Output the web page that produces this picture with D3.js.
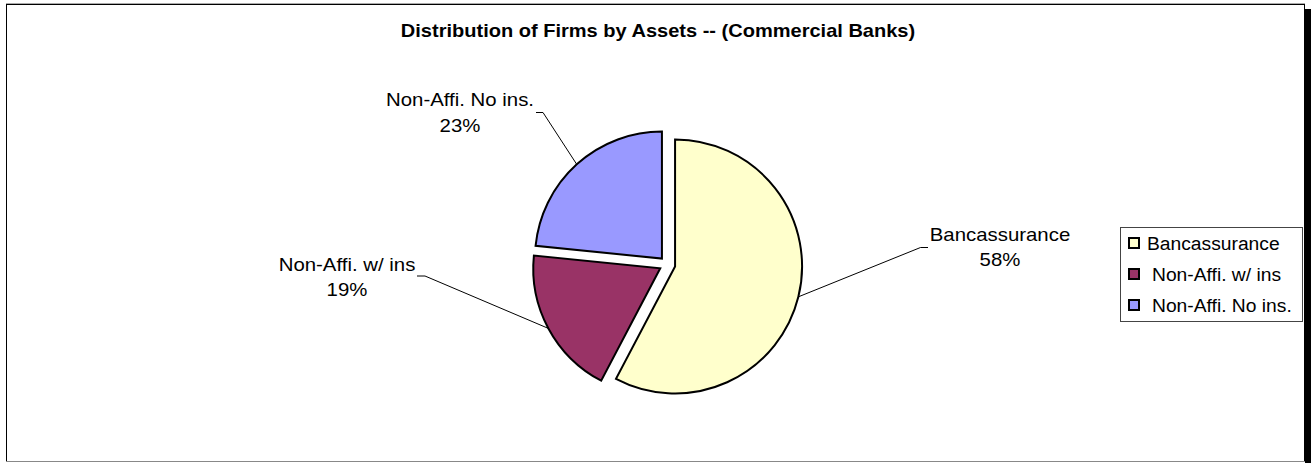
<!DOCTYPE html>
<html>
<head>
<meta charset="utf-8">
<script src="https://cdn.jsdelivr.net/npm/d3@7"></script>
<style>
  html, body { margin: 0; padding: 0; background: #fff; }
  svg { display: block; }
  text { font-family: "Liberation Sans", Arial, Helvetica, sans-serif; fill: #000; }
</style>
</head>
<body>
<svg id="chart" width="1314" height="463"></svg>
<script>
// ---- data ----
const categories = ["Bancassurance", "Non-Affi. w/ ins", "Non-Affi. No ins."];
const shares = [57.7, 18.9, 23.4];
const colors = ["#FFFFCC", "#993366", "#9999FF"];
const title = "Distribution of Firms by Assets -- (Commercial Banks)";

// ---- layout ----
const W = 1314, H = 463;
const cx = 667.3, cy = 264.5, R = 127, explode = 8;
const sx = 1.1; // horizontal stretch of text as in the reference
const labelAnchors = [
  { x: 1000, y: 240.5, elbow: [928, 247.5], end: [920.5, 247.5] },
  { x: 347,  y: 270.5, elbow: [417, 276],   end: [425, 276] },
  { x: 460,  y: 106,   elbow: [536, 112.5], end: [543, 112.5] }
];

const svg = d3.select("#chart");

// frame with shadow
svg.append("rect").attr("x", 1305).attr("y", 9).attr("width", 6).attr("height", H - 9).attr("fill", "#000");
svg.append("rect").attr("x", 6.5).attr("y", 4.5).attr("width", 1298).attr("height", 457)
  .attr("fill", "#fff").attr("stroke", "#000").attr("stroke-width", 1);
svg.append("line").attr("x1", 6).attr("x2", 1305).attr("y1", 3.5).attr("y2", 3.5).attr("stroke", "#aaa");
svg.append("line").attr("x1", 6).attr("x2", 1305).attr("y1", 461.5).attr("y2", 461.5).attr("stroke", "#888");

function stretchedText(g, x, y, str, opts) {
  const t = g.append("text")
    .attr("transform", `translate(${x},${y}) scale(${opts.sx || sx},1)`)
    .attr("text-anchor", opts.anchor || "middle")
    .style("font-size", opts.size + "px")
    .text(str);
  if (opts.bold) t.style("font-weight", "bold");
  return t;
}

// title
stretchedText(svg, 658, 36.5, title, { size: 18.3, bold: true, sx: 1.095 });

// pie
const total = d3.sum(shares);
const pie = d3.pie().sort(null).value(d => d)(shares);
const arc = d3.arc().innerRadius(0).outerRadius(R);

const g = svg.append("g").attr("transform", `translate(${cx},${cy})`);
pie.forEach((p, i) => {
  const mid = (p.startAngle + p.endAngle) / 2;
  const dx = explode * Math.sin(mid), dy = -explode * Math.cos(mid);
  g.append("path")
    .attr("d", arc(p))
    .attr("transform", `translate(${dx},${dy})`)
    .attr("fill", colors[i])
    .attr("stroke", "#000")
    .attr("stroke-width", 2)
    .attr("stroke-linejoin", "miter");

  // leader line from arc midpoint
  const px = cx + dx + R * Math.sin(mid), py = cy + dy - R * Math.cos(mid);
  const la = labelAnchors[i];
  svg.append("polyline")
    .attr("points", `${px},${py} ${la.end[0]},${la.end[1]} ${la.elbow[0]},${la.elbow[1]}`)
    .attr("fill", "none").attr("stroke", "#000").attr("stroke-width", 1);

  const pct = d3.format(".0%")(p.value / total);
  stretchedText(svg, la.x, la.y, categories[i], { size: 18.2, sx: 1.12 });
  stretchedText(svg, la.x, la.y + 25.5, pct, { size: 18.2, sx: 1.12 });
});

// legend
const lg = svg.append("g");
lg.append("rect").attr("x", 1120.5).attr("y", 227.5).attr("width", 182).attr("height", 94)
  .attr("fill", "#fff").attr("stroke", "#444").attr("stroke-width", 1);
categories.forEach((c, i) => {
  const y = 238 + i * 31;
  lg.append("rect").attr("x", 1129).attr("y", y).attr("width", 10).attr("height", 10)
    .attr("fill", colors[i]).attr("stroke", "#000").attr("stroke-width", 2);
  stretchedText(lg, i === 0 ? 1147 : 1152, y + 11.5, c, { size: 18, sx: 1.07, anchor: "start" });
});
</script>
</body>
</html>
